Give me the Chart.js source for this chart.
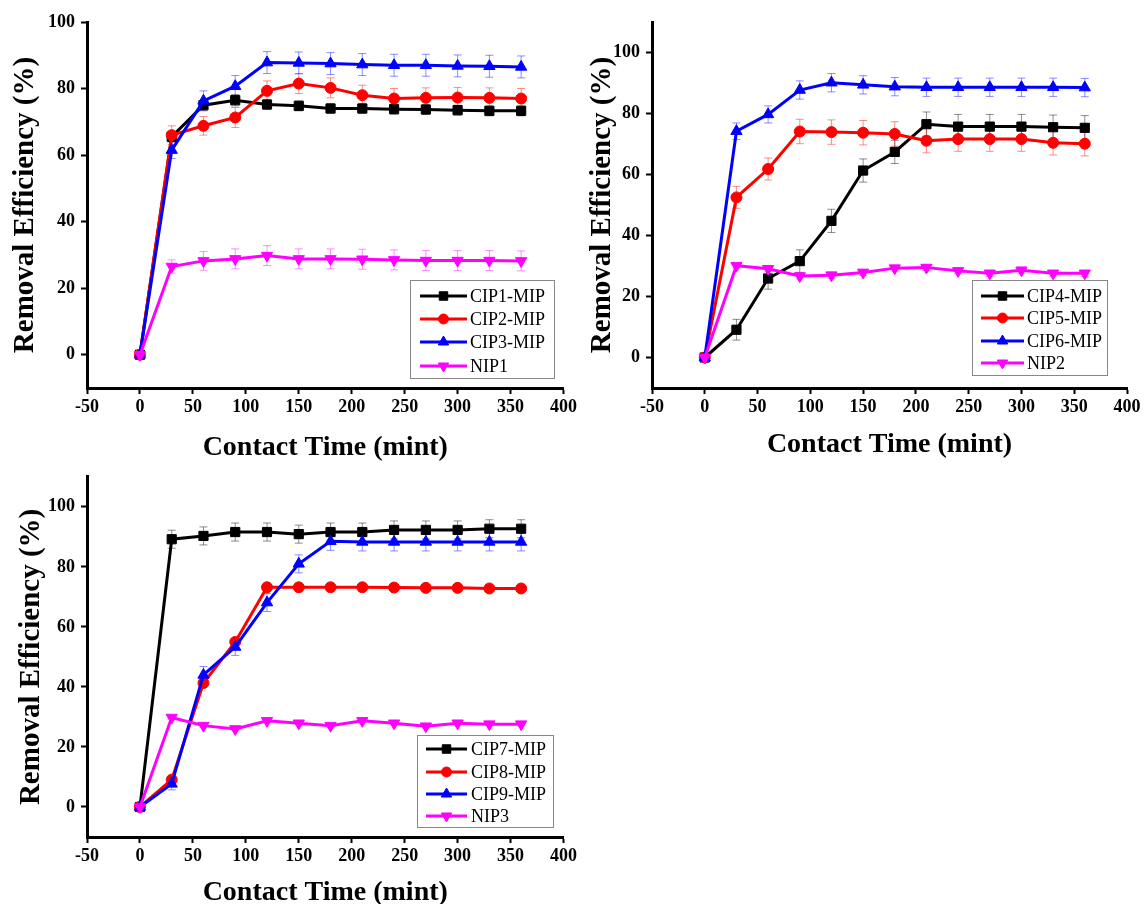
<!DOCTYPE html>
<html>
<head>
<meta charset="utf-8">
<script src="https://cdn.jsdelivr.net/npm/chart.js@4.4.1/dist/chart.umd.min.js"></script>
<style>
  html, body { margin: 0; padding: 0; background: #fff; overflow: hidden; width: 1145px; height: 904px; }
  canvas { position: absolute; }
</style>
</head>
<body>
<canvas id="c1" width="580" height="465" style="left:0;top:0"></canvas>
<canvas id="c2" width="565" height="462" style="left:580px;top:0"></canvas>
<canvas id="c3" width="580" height="450" style="left:0;top:460px"></canvas>
<script>
// contact time (min) and axis ticks
const times = [0, 30, 60, 90, 120, 150, 180, 210, 240, 270, 300, 330, 360];
const xTicks = [-50, 0, 50, 100, 150, 200, 250, 300, 350, 400];
const yTicks = [0, 20, 40, 60, 80, 100];

// panel 1
const names1 = ['CIP1-MIP', 'CIP2-MIP', 'CIP3-MIP', 'NIP1'];
const cip1 = [0, 65.5, 75, 76.5, 75.2, 74.8, 74, 74, 73.8, 73.7, 73.5, 73.3, 73.3];
const cip2 = [0, 66, 68.8, 71.3, 79.3, 81.5, 80.2, 78, 77, 77.2, 77.3, 77.2, 77];
const cip3 = [0, 61.5, 76.3, 80.7, 87.8, 87.7, 87.5, 87.2, 87, 87, 86.8, 86.7, 86.5];
const nip1 = [0, 26.5, 28.2, 28.8, 29.8, 28.8, 28.8, 28.7, 28.5, 28.3, 28.3, 28.3, 28.2];
const cip1Err = [0, 1.5, 1.5, 1.7, 1.5, 1.5, 1.5, 1.5, 1.5, 1.5, 1.5, 1.5, 1.5];
const cip2Err = [0, 2.8, 2.8, 3, 3, 3, 3, 3, 3, 3, 3, 3, 3];
const cip3Err = [0, 2.5, 3, 3.2, 3.3, 3.3, 3.3, 3.3, 3.3, 3.3, 3.3, 3.3, 3.3];
const nip1Err = [0, 2, 2.8, 3, 3, 3, 3, 3, 3, 3, 3, 3, 3];

// panel 2
const names2 = ['CIP4-MIP', 'CIP5-MIP', 'CIP6-MIP', 'NIP2'];
const cip4 = [0, 9.1, 25.9, 31.6, 44.8, 61.3, 67.4, 76.5, 75.7, 75.7, 75.7, 75.5, 75.3];
const cip5 = [0, 52.5, 61.8, 74.1, 73.9, 73.7, 73.3, 71.1, 71.6, 71.6, 71.6, 70.4, 70.1];
const cip6 = [0, 74.2, 79.7, 87.7, 90.1, 89.4, 88.8, 88.6, 88.6, 88.6, 88.6, 88.6, 88.5];
const nip2 = [0, 30.1, 29.1, 26.7, 27, 27.9, 29.3, 29.5, 28.4, 27.6, 28.6, 27.6, 27.6];
const cip4Err = [0, 3.4, 3.5, 3.7, 3.8, 3.8, 3.8, 4, 4, 4, 4, 4, 4];
const cip5Err = [0, 3.6, 3.6, 4, 4, 4, 4, 4, 4, 4, 4, 4, 4];
const cip6Err = [0, 2.7, 2.8, 3, 3, 3, 3, 3, 3, 3, 3, 3, 3];
const nip2Err = [0, 1, 1, 1, 1, 1, 1, 1, 1, 1, 1, 1, 1];

// panel 3
const names3 = ['CIP7-MIP', 'CIP8-MIP', 'CIP9-MIP', 'NIP3'];
const cip7 = [0, 89.2, 90.3, 91.6, 91.6, 90.9, 91.6, 91.6, 92.3, 92.3, 92.3, 92.7, 92.7];
const cip8 = [0, 9.1, 41.3, 55, 73.2, 73.2, 73.2, 73.2, 73.1, 73, 73, 72.8, 72.8];
const cip9 = [0, 7.7, 44, 53.3, 68.1, 81, 88.5, 88.3, 88.3, 88.3, 88.3, 88.3, 88.3];
const nip3 = [0, 29.8, 27.1, 26, 28.7, 27.9, 27.1, 28.7, 27.9, 26.9, 27.9, 27.6, 27.6];
const cip7Err = [0, 3, 3, 3, 3, 3, 3, 3, 3, 3, 3, 3, 3];
const cip8Err = [0, 0.5, 0.5, 0.5, 0.5, 0.5, 0.5, 0.5, 0.5, 0.5, 0.5, 0.5, 0.5];
const cip9Err = [0, 2, 2.8, 2.8, 3, 3, 3, 3, 3, 3, 3, 3, 3];
const nip3Err = [0, 0.5, 0.5, 0.5, 0.5, 0.5, 0.5, 0.5, 0.5, 0.5, 0.5, 0.5, 0.5];

/* ===========================
   SERIES STYLES
=========================== */

const styles = [
  { color: '#000000', err: 'rgba(0,0,0,0.45)', point: 'rect', rot: 0, r: 6.5 },
  { color: '#ff0000', err: 'rgba(255,0,0,0.45)', point: 'circle', rot: 0, r: 5.5 },
  { color: '#0000ff', err: 'rgba(0,0,255,0.45)', point: 'triangle', rot: 0, r: 6.5 },
  { color: '#ff00ff', err: 'rgba(255,0,255,0.45)', point: 'triangle', rot: 180, r: 6.5 }
];

const serif = '"Liberation Serif", "Times New Roman", serif';

/* ===========================
   PLUGINS
=========================== */

const errorBars = {
  id: 'errorBars',
  beforeDatasetsDraw(chart) {
    const { ctx, scales: { x, y } } = chart;
    chart.data.datasets.forEach(ds => {
      ctx.save();
      ctx.strokeStyle = ds.errColor;
      ctx.lineWidth = 1;
      ds.data.forEach((p, i) => {
        const e = ds.errors[i];
        if (!e) return;
        const px = x.getPixelForValue(p.x);
        const top = y.getPixelForValue(p.y + e);
        const bot = y.getPixelForValue(p.y - e);
        ctx.beginPath();
        ctx.moveTo(px, top); ctx.lineTo(px, bot);
        ctx.moveTo(px - 4, top); ctx.lineTo(px + 4, top);
        ctx.moveTo(px - 4, bot); ctx.lineTo(px + 4, bot);
        ctx.stroke();
      });
      ctx.restore();
    });
  }
};

const boxLegend = {
  id: 'boxLegend',
  afterDraw(chart, args, opts) {
    const ctx = chart.ctx;
    const b = opts.box;
    ctx.save();
    ctx.fillStyle = '#fff';
    ctx.fillRect(b.x, b.y, b.w, b.h);
    ctx.strokeStyle = '#888';
    ctx.lineWidth = 1;
    ctx.strokeRect(b.x + 0.5, b.y + 0.5, b.w, b.h);
    chart.data.datasets.forEach((ds, i) => {
      const cy = opts.rows[i];
      ctx.strokeStyle = ds.borderColor;
      ctx.lineWidth = 3;
      ctx.beginPath();
      ctx.moveTo(opts.lineX0, cy);
      ctx.lineTo(opts.lineX1, cy);
      ctx.stroke();
      ctx.fillStyle = ds.borderColor;
      ctx.lineWidth = 1;
      Chart.helpers.drawPoint(ctx, {
        pointStyle: ds.pointStyle, rotation: ds.pointRotation, radius: ds.pointRadius - 0.5, borderWidth: 1
      }, (opts.lineX0 + opts.lineX1) / 2, cy);
      ctx.fillStyle = '#000';
      ctx.font = '18px ' + serif;
      ctx.textBaseline = 'middle';
      ctx.fillText(ds.label, opts.textX, cy + 1);
    });
    ctx.restore();
  }
};

/* ===========================
   BUILD PANEL
=========================== */

function makePanel(id, names, series, errs, layout) {
  const datasets = series.map((vals, i) => ({
    label: names[i],
    data: times.map((t, k) => ({ x: t, y: vals[k] })),
    errors: errs[i],
    errColor: styles[i].err,
    borderColor: styles[i].color,
    backgroundColor: styles[i].color,
    pointStyle: styles[i].point,
    pointRotation: styles[i].rot,
    pointRadius: styles[i].r,
    pointBorderWidth: 1,
    borderWidth: 3,
    tension: 0,
    order: 3 - i
  }));

  const axisCommon = {
    grid: { drawOnChartArea: false, drawTicks: true, tickLength: 6, tickWidth: 2, tickColor: '#000' },
    border: { display: true, color: '#000', width: 3 }
  };

  new Chart(document.getElementById(id), {
    type: 'line',
    data: { datasets },
    plugins: [errorBars, boxLegend],
    options: {
      responsive: false,
      animation: false,
      layout: { padding: { top: layout.padTop, right: layout.padRight, left: 0, bottom: 0 } },
      plugins: {
        legend: { display: false },
        tooltip: { enabled: false },
        boxLegend: layout.legend
      },
      scales: {
        x: {
          ...axisCommon,
          type: 'linear',
          min: -50,
          max: 400,
          afterBuildTicks: s => { s.ticks = xTicks.map(v => ({ value: v })); },
          afterFit: s => { s.height = layout.xHeight; },
          ticks: { color: '#000', padding: 3, maxRotation: 0, font: { family: serif, size: 18, weight: 'bold' } },
          title: {
            display: true,
            text: 'Contact Time (mint)',
            color: '#000',
            padding: { top: 0, bottom: 0 },
            font: { family: serif, size: 28, weight: 'bold' }
          }
        },
        y: {
          ...axisCommon,
          min: -10,
          max: layout.yMax,
          afterBuildTicks: s => { s.ticks = yTicks.map(v => ({ value: v })); },
          afterFit: s => { s.width = layout.yWidth; },
          ticks: { color: '#000', padding: 6, font: { family: serif, size: 18, weight: 'bold' } },
          title: {
            display: true,
            text: 'Removal Efficiency (%)',
            color: '#000',
            padding: { top: layout.yTitlePad, bottom: 0 },
            font: { family: serif, size: 29, weight: 'bold' }
          }
        }
      }
    }
  });
}

makePanel('c1', names1, [cip1, cip2, cip3, nip1], [cip1Err, cip2Err, cip3Err, nip1Err], {
  padTop: 22, padRight: 15, xHeight: 465 - 388, yWidth: 87, yMax: 100, yTitlePad: 8,
  legend: { box: { x: 410, y: 280, w: 144, h: 98 }, rows: [296, 319, 342, 366], lineX0: 420, lineX1: 467, textX: 470 }
});

makePanel('c2', names2, [cip4, cip5, cip6, nip2], [cip4Err, cip5Err, cip6Err, nip2Err], {
  padTop: 22, padRight: 565 - 547, xHeight: 462 - 388, yWidth: 72, yMax: 110, yTitlePad: 5,
  legend: { box: { x: 392, y: 280, w: 135, h: 95 }, rows: [296, 318, 341, 363], lineX0: 401, lineX1: 444, textX: 447 }
});

makePanel('c3', names3, [cip7, cip8, cip9, nip3], [cip7Err, cip8Err, cip9Err, nip3Err], {
  padTop: 10, padRight: 15, xHeight: 450 - 377, yWidth: 87, yMax: 110, yTitlePad: 14,
  legend: { box: { x: 417, y: 275, w: 136, h: 92 }, rows: [289, 312, 334, 356], lineX0: 426, lineX1: 467, textX: 471 }
});
</script>
</body>
</html>
